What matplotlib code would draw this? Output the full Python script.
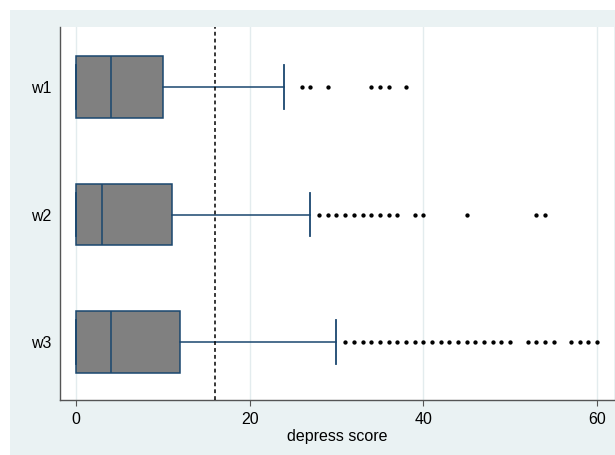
import matplotlib.pyplot as plt
from matplotlib.patches import Rectangle

plt.rcParams['font.family'] = ['Liberation Sans', 'DejaVu Sans']

# box summaries of depress score per wave
waves = ['w1', 'w2', 'w3']
q1 = [0, 0, 0]
med = [4, 3, 4]
q3 = [10, 11, 12]
whis_lo = [0, 0, 0]
whis_hi = [24, 27, 30]
outliers = [
    [26, 27, 29, 34, 35, 36, 38],
    [28, 29, 30, 31, 32, 33, 34, 35, 36, 37, 39, 40, 45, 53, 54],
    [31, 32, 33, 34, 35, 36, 37, 38, 39, 40, 41, 42, 43, 44, 45, 46, 47, 48,
     49, 50, 52, 53, 54, 55, 57, 58, 59, 60],
]
cutoff = 16

stats = []
for i, w in enumerate(waves):
    stats.append({'label': w, 'q1': q1[i], 'med': med[i], 'q3': q3[i],
                  'whislo': whis_lo[i], 'whishi': whis_hi[i],
                  'fliers': outliers[i]})

navy = '#1a476f'
bg = '#eaf2f3'

fig = plt.figure(figsize=(6.15, 4.55), dpi=100)
fig.add_artist(Rectangle((10 / 615, 0), 1, 1 - 10 / 455, transform=fig.transFigure,
                         facecolor=bg, edgecolor='none', zorder=-10))

ax = fig.add_axes([60 / 615, 1 - 400 / 455, (614 - 60) / 615, (400 - 27) / 455])
ax.set_facecolor('white')

ax.bxp(stats, positions=[1, 2, 3], orientation='horizontal', widths=0.486,
       capwidths=0.34, patch_artist=True, showfliers=True,
       boxprops=dict(facecolor='#808080', edgecolor=navy, linewidth=1.1),
       medianprops=dict(color=navy, linewidth=1.1),
       whiskerprops=dict(color=navy, linewidth=1.1),
       capprops=dict(color=navy, linewidth=1.3),
       flierprops=dict(marker='o', markersize=2.1, markerfacecolor='black',
                       markeredgecolor='black', linestyle='none'))

ax.axvline(cutoff, color='black', linestyle=(0, (2.5, 2)), linewidth=1.1, zorder=3)

ax.set_xlim(-1.843, 61.96)
ax.set_ylim(3.455, 0.529)
ax.set_xticks([0, 20, 40, 60])
ax.set_yticks([1, 2, 3])
ax.set_yticklabels(waves)
ax.grid(axis='x', color='#e3ecee', linewidth=1)
ax.set_axisbelow(True)

for s in ['top', 'right']:
    ax.spines[s].set_visible(False)
for s in ['left', 'bottom']:
    ax.spines[s].set_color('#555555')
    ax.spines[s].set_linewidth(1.0)

ax.tick_params(axis='x', length=4, color='#555555', labelsize=11.5, pad=5)
ax.tick_params(axis='y', length=0, labelsize=11.5, pad=6)
ax.set_xlabel('depress score', fontsize=11.5, labelpad=1)

fig.savefig('out.png', dpi=100)
